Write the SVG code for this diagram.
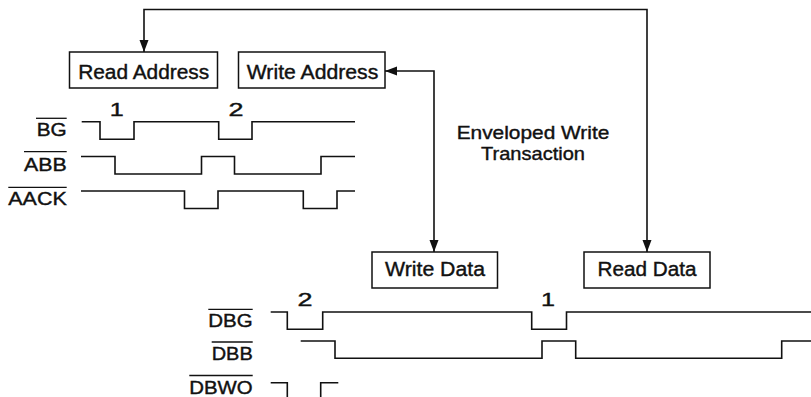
<svg xmlns="http://www.w3.org/2000/svg" width="811" height="397" viewBox="0 0 811 397">
<style>
.box{fill:#fff;stroke:#111;stroke-width:1.5}
text{font-family:"Liberation Sans",Arial,sans-serif;fill:#111;stroke:#111;stroke-width:0.4}
.lbl{font-size:20px;text-anchor:middle}
.env{font-size:19px;text-anchor:middle}
.sig{font-size:18px;text-anchor:end}
.num{font-size:19px;text-anchor:middle}
.wave{fill:none;stroke:#111;stroke-width:1.6}
.ovl{stroke:#111;stroke-width:1.3}
.conn{fill:none;stroke:#111;stroke-width:1.6}
</style>
<defs>
<marker id="arr" markerUnits="userSpaceOnUse" markerWidth="13" markerHeight="10" refX="12" refY="4.5" orient="auto-start-reverse">
<path d="M0,0 L12,4.5 L0,9 z" fill="#111"/>
</marker>
</defs>
<g id="connectors">
<path class="conn" d="M144,52 V9.5 H647 V252" marker-start="url(#arr)" marker-end="url(#arr)"/>
<path class="conn" d="M385,71 H434 V252" marker-start="url(#arr)" marker-end="url(#arr)"/>
</g>
<g id="read-address">
<rect class="box" x="69.5" y="52" width="148" height="36"/>
<text class="lbl" x="143.7" y="78.5" textLength="131" lengthAdjust="spacingAndGlyphs">Read Address</text>
</g>
<g id="write-address">
<rect class="box" x="238.5" y="52" width="146.5" height="36"/>
<text class="lbl" x="312.5" y="78.5" textLength="131.5" lengthAdjust="spacingAndGlyphs">Write Address</text>
</g>
<g id="write-data">
<rect class="box" x="372" y="252" width="125.5" height="36"/>
<text class="lbl" x="435" y="275.5" textLength="100" lengthAdjust="spacingAndGlyphs">Write Data</text>
</g>
<g id="read-data">
<rect class="box" x="584" y="252" width="126" height="36"/>
<text class="lbl" x="647" y="275.5" textLength="99" lengthAdjust="spacingAndGlyphs">Read Data</text>
</g>
<g id="enveloped-label">
<text class="env" x="533" y="138.5" textLength="152.6" lengthAdjust="spacingAndGlyphs">Enveloped Write</text>
<text class="env" x="533" y="159.5" textLength="104" lengthAdjust="spacingAndGlyphs">Transaction</text>
</g>
<g id="address-timing">
<text class="sig" x="66.7" y="136" textLength="30" lengthAdjust="spacingAndGlyphs">BG</text>
<line class="ovl" x1="36" y1="118.3" x2="66.7" y2="118.3"/>
<text class="sig" x="66.7" y="170.7" textLength="42.7" lengthAdjust="spacingAndGlyphs">ABB</text>
<line class="ovl" x1="24" y1="151.7" x2="66.7" y2="151.7"/>
<text class="sig" x="66.7" y="205" textLength="58.4" lengthAdjust="spacingAndGlyphs">AACK</text>
<line class="ovl" x1="8.3" y1="187.3" x2="66.7" y2="187.3"/>
<text class="num" x="116.7" y="115.7" textLength="14" lengthAdjust="spacingAndGlyphs">1</text>
<text class="num" x="236" y="115.7" textLength="15" lengthAdjust="spacingAndGlyphs">2</text>
<path class="wave" d="M81.7,121.7 H100 V139.3 H134 V121.7 H218.7 V139.3 H252 V121.7 H355"/>
<path class="wave" d="M81,156.5 H115 V174 H201.5 V156.5 H234.5 V174 H321 V156.5 H355"/>
<path class="wave" d="M81,191 H184.5 V208.5 H218 V191 H303.3 V208.5 H337 V191 H355"/>
</g>
<g id="data-timing">
<text class="sig" x="252.7" y="326.7" textLength="44.4" lengthAdjust="spacingAndGlyphs">DBG</text>
<line class="ovl" x1="208.3" y1="309.3" x2="252.7" y2="309.3"/>
<text class="sig" x="252.7" y="360" textLength="41" lengthAdjust="spacingAndGlyphs">DBB</text>
<line class="ovl" x1="211.7" y1="342" x2="252.7" y2="342"/>
<text class="sig" x="252.7" y="393.5" textLength="63.4" lengthAdjust="spacingAndGlyphs">DBWO</text>
<line class="ovl" x1="189.3" y1="375.5" x2="252.7" y2="375.5"/>
<text class="num" x="305" y="306" textLength="15" lengthAdjust="spacingAndGlyphs">2</text>
<text class="num" x="548" y="306" textLength="14" lengthAdjust="spacingAndGlyphs">1</text>
<path class="wave" d="M270.7,312 H287.3 V329.3 H322.7 V312 H531.7 V329.3 H566.5 V312 H811"/>
<path class="wave" d="M300.7,341 H335 V358.3 H542 V341 H575.7 V358.3 H781.7 V341 H811"/>
<path class="wave" d="M270.7,382.7 H287.3 V397"/>
<path class="wave" d="M320.7,397 V382.7 H338.3"/>
</g>
</svg>
